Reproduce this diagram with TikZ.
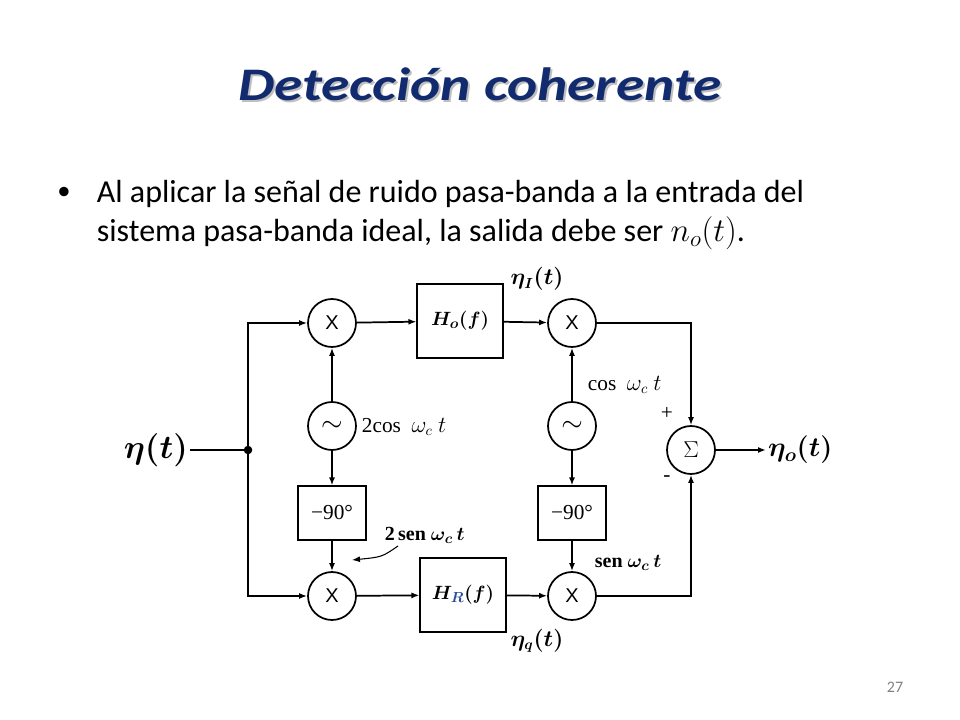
\documentclass[tikz,border=0pt]{standalone}
\usepackage{amsmath}
\usepackage{graphicx}
\usepackage{fontspec}
\setmainfont{Carlito}
\newfontfamily\scanfont{Liberation Serif}
\newfontfamily\scansans{Liberation Sans}
\usetikzlibrary{arrows.meta}
\definecolor{titleblue}{HTML}{112B6E}
\definecolor{subblue}{HTML}{2A4A9A}

\begin{document}
\begin{tikzpicture}[x=0.75pt,y=-0.75pt,line width=1.3pt,>={Latex[length=6pt,width=4.5pt]},
  mult/.style={circle,draw,minimum size=36pt,inner sep=0pt,font=\scansans\fontsize{15}{18}\selectfont},
  filt/.style={draw,minimum width=64pt,minimum height=55pt,inner sep=0pt,font=\boldmath\fontsize{15}{18}\selectfont},
  shiftbox/.style={draw,minimum width=51pt,minimum height=40pt,inner sep=0pt,font=\scanfont\fontsize{16}{18}\selectfont},
  sig/.style={font=\boldmath\fontsize{20}{22}\selectfont,inner sep=1pt},
  lbl/.style={font=\scanfont\fontsize{16}{18}\selectfont,inner sep=0pt,anchor=west},
  boldlbl/.style={lbl,font=\scanfont\bfseries\boldmath\fontsize{15}{18}\selectfont}]
  \fill[white] (0,0) rectangle (960,720);
  \useasboundingbox (0,0) rectangle (960,720);
  % title and text
  \node[anchor=base,text=black!25,font=\bfseries\itshape\fontsize{35}{40}\selectfont] at (482,103) {\scalebox{1.23}[1]{Detección coherente}};
  \node[anchor=base,text=titleblue,font=\bfseries\itshape\fontsize{35}{40}\selectfont] (title) at (480,101) {\scalebox{1.23}[1]{Detección coherente}};
  \node[font=\fontsize{20}{20}\selectfont] (bul) at (64,193) {•};
  \node[anchor=base west,inner sep=0pt,font=\fontsize{24}{29}\selectfont] (txt1) at (96,203)
    {Al aplicar la señal de ruido pasa-banda a la entrada del};
  \node[anchor=base west,inner sep=0pt,font=\fontsize{24}{29}\selectfont] (txt2) at (96,242)
    {sistema pasa-banda ideal, la salida debe ser $n_o(t)$.};
  \node[text=gray,font=\fontsize{12}{14}\selectfont] (pg) at (895,687) {27};
  % blocks
  \foreach \i/\x in {1/332,2/572}{
    \node[mult] (xa\i) at (\x,323) {X};
    \node[mult,font=\fontsize{22}{22}\selectfont] (osc\i) at (\x,426) {$\sim$};
    \node[shiftbox] (ps\i) at (\x,513) {−90°};
    \node[mult] (xb\i) at (\x,596) {X};
  }
  \node[filt] (ho) at (460,321) {$H_o(f)$};
  \node[filt] (hr) at (463,595) {$H_{\color{subblue}R}(f)$};
  \node[mult,font=\fontsize{16}{18}\selectfont] (sum) at (691,450) {$\Sigma$};
  \node[sig,anchor=east,font=\boldmath\fontsize{24}{26}\selectfont] (in) at (190,450) {$\eta(t)$};
  \node[sig,anchor=west] (out) at (766,450) {$\eta_o(t)$};
  \coordinate (j) at (248,450);
  % connections
  \draw (in) -- (j);
  \fill (j) circle (3.2pt);
  \draw[->] (j) |- (xa1);
  \draw[->] (j) |- (xb1);
  \draw[->] (xa1) -- (ho);
  \draw[->] (ho) -- (xa2);
  \draw[->] (xb1) -- (hr);
  \draw[->] (hr) -- (xb2);
  \foreach \i in {1,2}{
    \draw[->] (osc\i) -- (xa\i);
    \draw[->] (osc\i) -- (ps\i);
    \draw[->] (ps\i) -- (xb\i);
  }
  \draw[->] (xa2) -| (sum);
  \draw[->] (xb2) -| (sum);
  \draw[->] (sum) -- (out);
  % labels
  \node[font=\boldmath\fontsize{16}{18}\selectfont] (etai) at (537,279) {$\eta_I(t)$};
  \node[font=\boldmath\fontsize{16}{18}\selectfont] (etaq) at (537,641) {$\eta_q(t)$};
  \node[lbl] (cos1) at (361,427) {2cos\ \ $\omega_c\ t$};
  \node[lbl] (cos2) at (587,385) {cos\ \ $\omega_c\ t$};
  \node[boldlbl] (sen1) at (384,535) {2\,sen\ $\omega_c\,t$};
  \node[boldlbl] (sen2) at (594,563) {sen\ $\omega_c\,t$};
  \node[font=\scanfont\fontsize{16}{16}\selectfont] (plus) at (667,413) {+};
  \node[font=\scanfont\fontsize{16}{16}\selectfont] (minus) at (667,479) {-};
  \coordinate (pa) at (398,546);
  \coordinate (pb) at (352,560);
  \draw[->,line width=0.8pt] (pa) .. controls (382,557) .. (pb);
\end{tikzpicture}
\end{document}
